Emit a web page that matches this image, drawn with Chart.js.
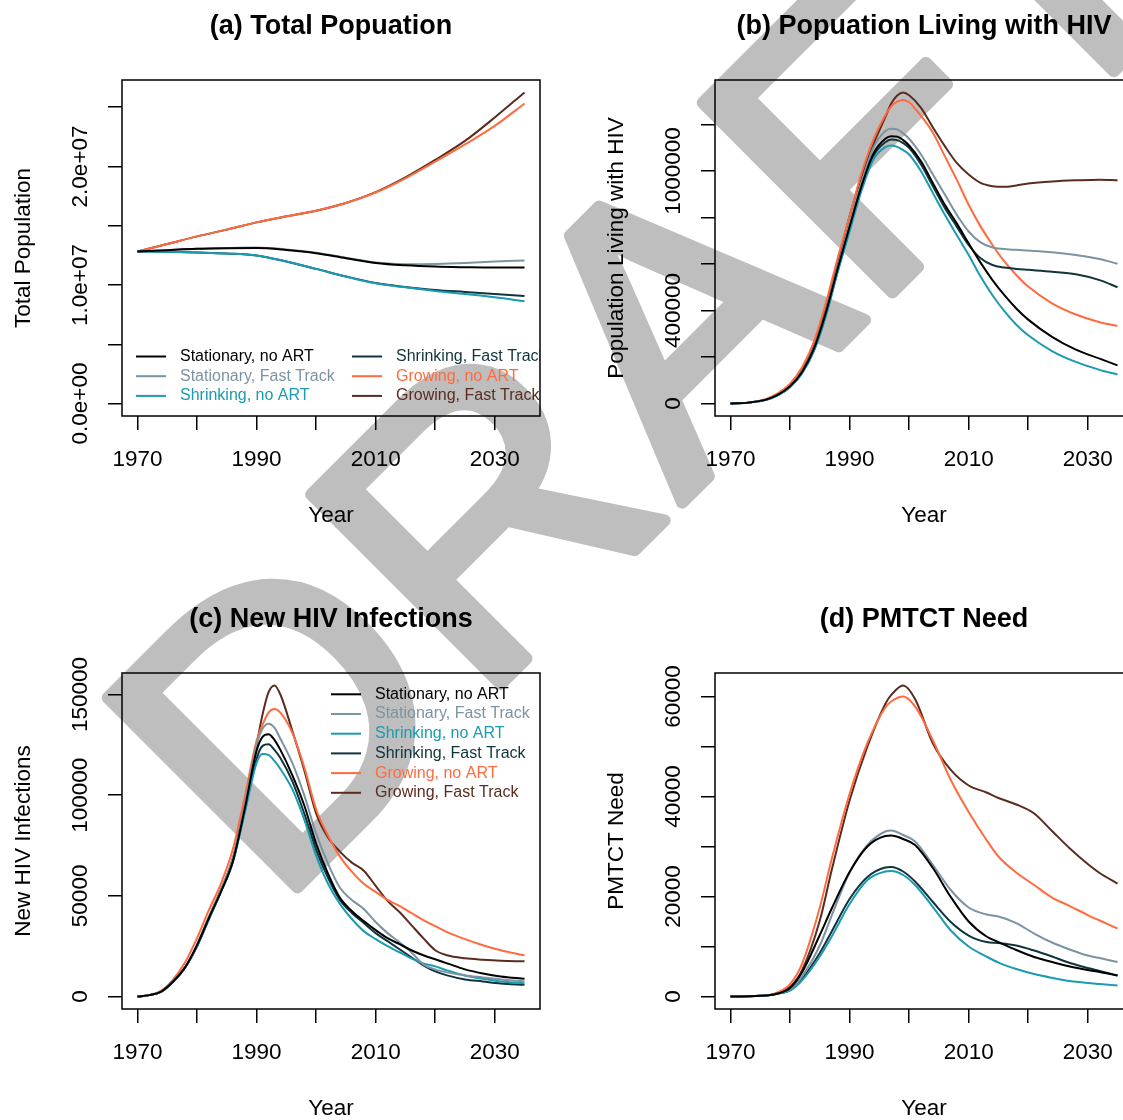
<!DOCTYPE html>
<html>
<head>
<meta charset="utf-8">
<script src="https://cdn.jsdelivr.net/npm/chart.js@4.4.0/dist/chart.umd.min.js"></script>
<style>
  html, body { margin: 0; padding: 0; background: #fff; overflow: hidden; }
  #page { position: relative; width: 1123px; height: 1120px; overflow: hidden; background: #fff; }
  .panel { position: absolute; width: 561px; height: 560px; }
  #draft { position: absolute; left: 0; top: 0; }
  #draft text {
    font-family: "Liberation Sans", Arial, sans-serif; font-size: 390px; font-weight: normal;
    letter-spacing: 6px; fill: #bebebe; stroke: #bebebe; stroke-width: 12px; stroke-linejoin: round;
  }
</style>
</head>
<body>
<div id="page">
  <svg id="draft" width="1123" height="1120">
    <text x="745" y="440" text-anchor="middle" transform="rotate(-45 745 440)">DRAFT</text>
  </svg>
  <div class="panel" style="left:0;top:0"><canvas id="chartA" width="561" height="560"></canvas></div>
  <div class="panel" style="left:593px;top:0"><canvas id="chartB" width="561" height="560"></canvas></div>
  <div class="panel" style="left:0;top:593px"><canvas id="chartC" width="561" height="560"></canvas></div>
  <div class="panel" style="left:593px;top:593px"><canvas id="chartD" width="561" height="560"></canvas></div>
</div>
<script>
// scenarios (same order in every panel)
const seriesNames = ['Stationary, no ART', 'Stationary, Fast Track', 'Shrinking, no ART',
                     'Shrinking, Fast Track', 'Growing, no ART', 'Growing, Fast Track'];
const seriesColors = ['#000000', '#7c93a2', '#1a9bb1', '#0f343b', '#ff6b3f', '#5a2c20'];

// x axis: ticks every 10 years, only some labelled
const xTicks = [1970, 1980, 1990, 2000, 2010, 2020, 2030];
const xLabels = [1970, 1990, 2010, 2030];

// (a) Total population
const yearsA = [1970, 1975, 1980, 1985, 1990, 1995, 2000, 2005, 2010, 2015, 2020, 2025, 2030, 2035];
const popStatNoArt = [12.82e6, 12.94e6, 13.05e6, 13.10e6, 13.11e6, 12.95e6, 12.68e6, 12.26e6, 11.86e6, 11.66e6, 11.55e6, 11.50e6, 11.47e6, 11.47e6];
const popStatFT    = [12.82e6, 12.94e6, 13.05e6, 13.12e6, 13.16e6, 13.00e6, 12.72e6, 12.30e6, 11.90e6, 11.75e6, 11.78e6, 11.86e6, 11.98e6, 12.06e6];
const popShrNoArt  = [12.82e6, 12.80e6, 12.74e6, 12.66e6, 12.49e6, 11.98e6, 11.36e6, 10.71e6, 10.14e6, 9.80e6, 9.50e6, 9.24e6, 8.96e6, 8.62e6];
const popShrFT     = [12.82e6, 12.80e6, 12.74e6, 12.66e6, 12.49e6, 11.98e6, 11.36e6, 10.72e6, 10.16e6, 9.84e6, 9.58e6, 9.41e6, 9.24e6, 9.07e6];
const popGrowNoArt = [12.82e6, 13.45e6, 14.10e6, 14.67e6, 15.28e6, 15.79e6, 16.27e6, 16.92e6, 17.80e6, 19.00e6, 20.40e6, 21.86e6, 23.42e6, 25.31e6];
const popGrowFT    = [12.82e6, 13.45e6, 14.10e6, 14.67e6, 15.28e6, 15.79e6, 16.27e6, 16.92e6, 17.83e6, 19.08e6, 20.55e6, 22.15e6, 24.13e6, 26.24e6];
const yTicksA = [0, 5e6, 10e6, 15e6, 20e6, 25e6];
const yLabelsA = [0, 10e6, 20e6];

// (b) Population living with HIV
const yearsB = [1970, 1973, 1976, 1978, 1980, 1982, 1984, 1986, 1988, 1990, 1992, 1994, 1996, 1997, 1998, 1999, 2000,
                2002, 2004, 2006, 2008, 2010, 2012, 2014, 2016, 2018, 2020, 2024, 2028, 2032, 2035];
const plhivStatNoArt = [0, 4e3, 17e3, 38e3, 74e3, 135e3, 235e3, 390e3, 580e3, 760e3, 935e3, 1075e3, 1139e3, 1150e3, 1148e3, 1133e3, 1110e3,
                        1042e3, 948e3, 855e3, 775e3, 689e3, 606e3, 531e3, 466e3, 409e3, 361e3, 287e3, 232e3, 193e3, 164e3];
const plhivStatFT    = [0, 4e3, 17e3, 38e3, 74e3, 137e3, 238e3, 395e3, 588e3, 770e3, 950e3, 1100e3, 1172e3, 1182e3, 1179e3, 1162e3, 1139e3,
                        1071e3, 985e3, 899e3, 812e3, 740e3, 693e3, 671e3, 665e3, 661e3, 658e3, 651e3, 639e3, 622e3, 601e3];
const plhivShrNoArt  = [0, 4e3, 16e3, 36e3, 70e3, 128e3, 225e3, 375e3, 565e3, 740e3, 915e3, 1050e3, 1103e3, 1110e3, 1104e3, 1090e3, 1071e3,
                        999e3, 905e3, 812e3, 725e3, 639e3, 546e3, 466e3, 397e3, 339e3, 294e3, 226e3, 179e3, 145e3, 125e3];
const plhivShrFT     = [0, 4e3, 16e3, 36e3, 71e3, 130e3, 228e3, 380e3, 570e3, 750e3, 925e3, 1065e3, 1124e3, 1136e3, 1133e3, 1120e3, 1100e3,
                        1028e3, 934e3, 841e3, 761e3, 682e3, 625e3, 596e3, 585e3, 579e3, 575e3, 567e3, 556e3, 531e3, 500e3];
const plhivGrowNoArt = [0, 4e3, 20e3, 45e3, 85e3, 155e3, 265e3, 430e3, 625e3, 805e3, 990e3, 1135e3, 1240e3, 1278e3, 1298e3, 1306e3, 1296e3,
                        1237e3, 1165e3, 1064e3, 963e3, 855e3, 762e3, 682e3, 611e3, 553e3, 503e3, 431e3, 383e3, 350e3, 334e3];
const plhivGrowFT    = [0, 4e3, 18e3, 40e3, 78e3, 143e3, 248e3, 410e3, 605e3, 805e3, 975e3, 1115e3, 1232e3, 1290e3, 1325e3, 1338e3, 1326e3,
                        1272e3, 1187e3, 1107e3, 1035e3, 985e3, 949e3, 935e3, 932e3, 938e3, 946e3, 955e3, 960e3, 963e3, 960e3];
const yTicksB = [0, 200000, 400000, 600000, 800000, 1000000, 1200000];
const yLabelsB = [0, 400000, 1000000];

// (c) New HIV infections
const yearsC = [1970, 1972, 1974, 1976, 1978, 1980, 1982, 1984, 1986, 1988, 1990, 1991, 1992, 1993, 1994, 1996, 1998,
                2000, 2002, 2004, 2006, 2008, 2010, 2012, 2014, 2016, 2018, 2020, 2022, 2025, 2028, 2031, 2035];
const infStatNoArt = [0, 700, 2500, 7500, 14500, 25500, 39000, 52000, 67000, 93000, 122000, 129000, 130300, 127500, 122500, 110000, 95000,
                      76000, 61000, 49000, 42500, 37500, 33000, 29000, 26000, 23000, 20500, 18500, 16500, 13500, 11500, 10000, 8800];
const infStatFT    = [0, 700, 2500, 7500, 14500, 25500, 39500, 53000, 68500, 95000, 125000, 133000, 135500, 133500, 128000, 116000, 100000,
                      81000, 66000, 54000, 48000, 43500, 37000, 31500, 27000, 22000, 16000, 13500, 12000, 10500, 9500, 8500, 7500];
const infShrNoArt  = [0, 700, 2500, 7500, 14500, 25000, 38500, 52000, 66500, 91000, 116000, 120500, 120000, 117000, 113000, 103000, 88000,
                      70000, 56000, 46000, 38500, 32500, 28500, 25000, 22000, 19000, 16500, 15000, 13000, 10500, 8800, 7500, 6600];
const infShrFT     = [0, 700, 2500, 7500, 14500, 25000, 38500, 52000, 67000, 92000, 118000, 124500, 125300, 122500, 118500, 107000, 91000,
                      73000, 59000, 48000, 41500, 36500, 31500, 27500, 23500, 19500, 15500, 12500, 10500, 8500, 7500, 6500, 5800];
const infGrowNoArt = [0, 800, 3000, 8500, 17000, 29000, 43000, 56000, 73000, 99000, 127000, 135000, 141000, 142800, 141000, 131000, 114000,
                      93000, 80000, 69500, 62000, 56000, 52000, 48000, 45000, 41500, 38000, 35000, 32000, 28500, 25500, 23000, 20500];
const infGrowFT    = [0, 700, 2500, 7500, 14500, 25500, 39500, 53000, 68500, 95000, 125000, 140000, 151000, 154500, 150000, 132000, 112500,
                      91000, 79000, 72000, 66500, 62500, 55000, 47500, 42000, 35500, 29000, 23000, 20500, 19000, 18300, 17800, 17500];
const yTicksC = [0, 50000, 100000, 150000];
const yLabelsC = [0, 50000, 100000, 150000];

// (d) PMTCT need
const yearsD = [1970, 1976, 1978, 1980, 1982, 1985, 1987, 1990, 1993, 1996, 1997, 1999, 2001,
                2004, 2007, 2010, 2013, 2015, 2018, 2021, 2024, 2027, 2030, 2032, 2035];
const pmtctStatNoArt = [0, 200, 600, 1700, 4800, 12300, 17600, 24900, 30000, 32100, 32200, 31500, 30300,
                        25700, 19900, 15000, 12000, 10900, 9300, 7900, 6900, 6000, 5300, 4900, 4200];
const pmtctStatFT    = [0, 200, 600, 1500, 4000, 10200, 16200, 24800, 30300, 33000, 33200, 32300, 31000,
                        26300, 21300, 17800, 16400, 16000, 14700, 12600, 10800, 9400, 8200, 7700, 6900];
const pmtctShrNoArt  = [0, 200, 600, 1200, 3200, 8000, 12000, 18500, 23300, 25000, 25100, 24300, 22300,
                        17900, 13200, 10000, 8000, 6800, 5500, 4500, 3750, 3100, 2700, 2500, 2200];
const pmtctShrFT     = [0, 200, 600, 1300, 3500, 8700, 13000, 19500, 23900, 25800, 25900, 25000, 23000,
                        18900, 14900, 12200, 10900, 10700, 10200, 9200, 8000, 6700, 5700, 5100, 4200];
const pmtctGrowNoArt = [0, 200, 900, 2500, 6500, 17800, 27500, 40500, 50700, 57800, 59000, 60000, 58000,
                        51200, 43300, 36900, 31300, 28000, 24800, 22300, 19800, 18100, 16300, 15200, 13600];
const pmtctGrowFT    = [0, 200, 700, 1900, 5200, 15200, 25300, 39200, 50000, 58500, 60300, 62200, 59500,
                        50600, 45300, 42200, 40800, 39700, 38400, 36600, 33100, 29600, 26500, 24700, 22600];
const yTicksD = [0, 10000, 20000, 30000, 40000, 50000, 60000];
const yLabelsD = [0, 20000, 40000, 60000];

const FONT = '"Liberation Sans", Arial, Helvetica, sans-serif';
const TICK_LEN = 14;
Chart.defaults.font.family = FONT;
Chart.defaults.color = '#000';

// R style 1.0e+07
function sciLabel(v) {
    let parts = v.toExponential(1).split('e');
    let exp = parseInt(parts[1], 10);
    return parts[0] + 'e' + (exp < 0 ? '-' : '+') + String(Math.abs(exp)).padStart(2, '0');
}

function measureWidest(labels, size) {
    let c = document.createElement('canvas').getContext('2d');
    c.font = size + 'px ' + FONT;
    return Math.max(...labels.map(l => c.measureText(l).width));
}

// box round the plot region, panel title and legend
const panelDecor = {
    id: 'panelDecor',
    afterDatasetsDraw(chart, args, opts) {
        const ctx = chart.ctx;
        const a = chart.chartArea;
        ctx.save();
        if (opts.legend) {
            ctx.beginPath();
            ctx.rect(a.left, a.top, a.right - a.left, a.bottom - a.top);
            ctx.clip();
            ctx.font = '16px ' + FONT;
            ctx.textBaseline = 'middle';
            ctx.textAlign = 'left';
            ctx.lineWidth = 2;
            chart.data.datasets.forEach((ds, i) => {
                let x, y;
                if (opts.legend === 'bottom') {
                    x = a.left + 14 + Math.floor(i / 3) * 216;
                    y = a.bottom - 59.5 + (i % 3) * 19.7;
                } else {
                    x = a.left + 209;
                    y = a.top + 21.3 + i * 19.7;
                }
                ctx.strokeStyle = ds.borderColor;
                ctx.beginPath();
                ctx.moveTo(x, y);
                ctx.lineTo(x + 30, y);
                ctx.stroke();
                ctx.fillStyle = ds.borderColor;
                ctx.fillText(ds.label, x + 44, y);
            });
        }
        ctx.restore();

        ctx.save();
        ctx.strokeStyle = '#000';
        ctx.lineWidth = 1.5;
        ctx.strokeRect(a.left, a.top, a.right - a.left, a.bottom - a.top);
        ctx.font = 'bold 27px ' + FONT;
        ctx.fillStyle = '#000';
        ctx.textAlign = 'center';
        ctx.textBaseline = 'middle';
        ctx.fillText(opts.title, (a.left + a.right) / 2, 27);
        ctx.restore();
    }
};

function tekenPaneel(id, title, yTitle, years, series, yTicks, yLabels, fmt, legend) {
    let ctx = document.getElementById(id).getContext('2d');
    let datasets = series.map((values, i) => ({
        label: seriesNames[i],
        data: values.map((v, j) => ({ x: years[j], y: v })),
        borderColor: seriesColors[i],
        borderWidth: 2,
        pointRadius: 0,
        fill: false,
        cubicInterpolationMode: 'monotone'
    }));
    // R-style 4% axis extension
    let yMax = Math.max(...series.flat());
    let xMin = years[0], xMax = years[years.length - 1];
    let xPad = (xMax - xMin) * 0.04;
    let widest = measureWidest(yLabels.map(fmt), 22.5);
    let yPad = 122 - TICK_LEN - widest / 2 - 81;

    return new Chart(ctx, {
        type: 'line',
        data: { datasets: datasets },
        plugins: [panelDecor],
        options: {
            responsive: false,
            animation: false,
            layout: { padding: { top: 80, right: 21, bottom: 0, left: 0 } },
            plugins: {
                legend: { display: false },
                tooltip: { enabled: false },
                panelDecor: { title: title, legend: legend }
            },
            scales: {
                x: {
                    type: 'linear',
                    min: xMin - xPad,
                    max: xMax + xPad,
                    afterBuildTicks: s => { s.ticks = xTicks.map(v => ({ value: v })); },
                    afterFit: s => { s.height = 144; },
                    border: { display: false },
                    grid: { drawOnChartArea: false, drawTicks: true, tickLength: TICK_LEN, color: '#000', lineWidth: 1.5 },
                    ticks: {
                        autoSkip: false, maxRotation: 0, minRotation: 0, padding: 16,
                        font: { size: 22.5 }, color: '#000',
                        callback: v => xLabels.includes(v) ? String(v) : ''
                    },
                    title: { display: true, text: 'Year', font: { size: 22.5 }, color: '#000', padding: { top: 0, bottom: 31 } }
                },
                y: {
                    type: 'linear',
                    min: -0.04 * yMax,
                    max: 1.04 * yMax,
                    afterBuildTicks: s => { s.ticks = yTicks.map(v => ({ value: v })); },
                    afterFit: s => { s.width = 122; },
                    border: { display: false },
                    grid: { drawOnChartArea: false, drawTicks: true, tickLength: TICK_LEN, color: '#000', lineWidth: 1.5 },
                    ticks: {
                        autoSkip: false, minRotation: 90, maxRotation: 90, crossAlign: 'center', padding: yPad,
                        font: { size: 22.5 }, color: '#000',
                        callback: v => yLabels.includes(v) ? fmt(v) : ''
                    },
                    title: { display: true, text: yTitle, font: { size: 22.5 }, color: '#000', padding: { top: 10, bottom: 0 } }
                }
            }
        }
    });
}

window.onload = function() {
    tekenPaneel('chartA', '(a) Total Popuation', 'Total Population', yearsA,
        [popStatNoArt, popStatFT, popShrNoArt, popShrFT, popGrowNoArt, popGrowFT],
        yTicksA, yLabelsA, sciLabel, 'bottom');
    tekenPaneel('chartB', '(b) Popuation Living with HIV', 'Population Living with HIV', yearsB,
        [plhivStatNoArt, plhivStatFT, plhivShrNoArt, plhivShrFT, plhivGrowNoArt, plhivGrowFT],
        yTicksB, yLabelsB, v => String(v), null);
    tekenPaneel('chartC', '(c) New HIV Infections', 'New HIV Infections', yearsC,
        [infStatNoArt, infStatFT, infShrNoArt, infShrFT, infGrowNoArt, infGrowFT],
        yTicksC, yLabelsC, v => String(v), 'top');
    tekenPaneel('chartD', '(d) PMTCT Need', 'PMTCT Need', yearsD,
        [pmtctStatNoArt, pmtctStatFT, pmtctShrNoArt, pmtctShrFT, pmtctGrowNoArt, pmtctGrowFT],
        yTicksD, yLabelsD, v => String(v), null);
};
</script>
</body>
</html>
